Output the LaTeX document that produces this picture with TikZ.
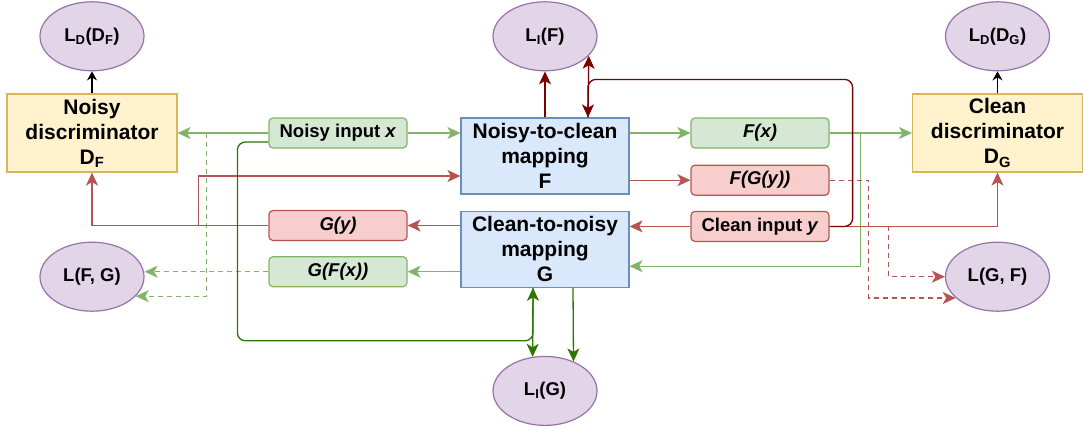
\documentclass[tikz,border=0pt]{standalone}
\usepackage{fontspec}
\setmainfont{Liberation Sans}
\usetikzlibrary{arrows.meta,positioning,shapes.geometric}
\definecolor{gfill}{HTML}{D5E8D4}\definecolor{gline}{HTML}{82B366}
\definecolor{rfill}{HTML}{F8CECC}\definecolor{rline}{HTML}{B85450}
\definecolor{bfill}{HTML}{DAE8FC}\definecolor{bline}{HTML}{6C8EBF}
\definecolor{yfill}{HTML}{FFF2CC}\definecolor{yline}{HTML}{D6B656}
\definecolor{pfill}{HTML}{E1D5E7}\definecolor{pline}{HTML}{9673A6}
\definecolor{dred}{HTML}{7A0000}\definecolor{dgreen}{HTML}{2D7600}
\tikzset{
  box/.style={draw, line width=1.2pt, align=center, inner sep=2pt, font=\fontsize{21}{25}\selectfont\bfseries},
  mapb/.style={box, fill=bfill, draw=bline, minimum width=168pt, minimum height=76pt},
  disc/.style={box, fill=yfill, draw=yline, minimum width=170pt, minimum height=78pt},
  sig/.style={box, rounded corners=4pt, minimum width=138pt, minimum height=30pt, font=\fontsize{18.5}{22}\selectfont\bfseries},
  sigg/.style={sig, fill=gfill, draw=gline},
  sigr/.style={sig, fill=rfill, draw=rline},
  loss/.style={ellipse, draw=pline, fill=pfill, line width=1.2pt, minimum width=104pt, minimum height=69pt, inner sep=0pt, font=\fontsize{18.5}{22}\selectfont\bfseries},
  arr/.style={-{Stealth[length=13pt, width=12pt, inset=3.5pt]}, line width=1.3pt},
  karr/.style={-{Stealth[length=9pt, width=10pt, inset=3pt]}, line width=1.5pt, draw=black},
  garr/.style={arr, draw=gline}, rarr/.style={arr, draw=rline},
  gdash/.style={garr, dash pattern=on 5pt off 4pt}, rdash/.style={rarr, dash pattern=on 5pt off 4pt},
  drarr/.style={arr, draw=dred}, dgarr/.style={arr, draw=dgreen}}
\begin{document}
\begin{tikzpicture}[x=1pt, y=-1pt]
  \useasboundingbox (0,0) rectangle (1083,429);
  \node[mapb] (F) at (545,156) {Noisy-to-clean\\mapping\\F};
  \node[mapb, below=16pt of F] (G) {Clean-to-noisy\\mapping\\G};
  \node[disc] (df) at (92,133) {Noisy\\discriminator\\D\textsubscript{F}};
  \node[disc] (dg) at (997.5,133) {Clean\\discriminator\\D\textsubscript{G}};
  \node[sigg] (nx) at (338,133) {Noisy input \textit{x}};
  \node[sigr] (gy) at (338,225.5) {\textit{G(y)}};
  \node[sigg, below=15pt of gy] (gfx) {\textit{G(F(x))}};
  \node[sigg] (fx) at (760,133) {\textit{F(x)}};
  \node[sigr, below=16pt of fx] (fgy) {\textit{F(G(y))}};
  \node[sigr, below=15pt of fgy] (cy) {Clean input \textit{y}};
  \node[loss, above=22pt of df] (ldf) {L\textsubscript{D}(D\textsubscript{F})};
  \node[loss, above=22pt of dg] (ldg) {L\textsubscript{D}(D\textsubscript{G})};
  \node[loss, above=46pt of F] (lif) {L\textsubscript{I}(F)};
  \node[loss, below=68pt of G] (lig) {L\textsubscript{I}(G)};
  \node[loss, below=69pt of df] (lfg) {L(F, G)};
  \node[loss, below=69pt of dg] (lgf) {L(G, F)};
  % discriminator losses
  \draw[karr] (df.north) -- (ldf.south); \draw[karr] (dg.north) -- (ldg.south);
  % noisy branch
  \draw[garr, line width=2pt] (nx.west) -- (df.east); \draw[garr] (nx.east) -- (nx.east -| F.west);
  \draw[garr] (fx.west -| F.east) -- (fx.west); \draw[garr] (fx.east) -- (dg.west);
  \draw[garr] (fx.east) -- ++(31,0) |- ([yshift=-17pt]G.east);
  \draw[garr] (gfx.east -| G.west) -- (gfx.east);
  \draw[gdash] (gfx.west) -- (gfx.west -| lfg.east); \draw[gdash] (nx.west) ++(-62,0) |- (lfg.-24);
  % clean branch
  \draw[rarr] (gy.east -| G.west) -- (gy.east); \draw[rarr] (gy.west) -| (df.south);
  \draw[rarr] (gy.west) ++(-70,0) |- ([yshift=-20pt]F.west);
  \draw[rarr] (fgy.west -| F.east) -- (fgy.west); \draw[rarr] (cy.west) -- (cy.west -| G.east);
  \draw[rarr] (cy.east) -| (dg.south);
  \draw[rdash] (cy.east) ++(59,0) |- (lgf.west); \draw[rdash] (fgy.east) -- ++(39,0) |- (lgf.-153);
  % identity losses
  \draw[drarr] (F.north) -- (lif.south);
  \draw[drarr, rounded corners=8pt] (cy.east) -- ++(23,0) |- ([shift={(43pt,38pt)}]F.north) -- ([xshift=43pt]F.north);
  \draw[drarr] ([xshift=43pt]F.north) -- (lif.-24);
  \draw[dgarr, rounded corners=8pt] ([yshift=-9pt]nx.west) -- ++(-31,0) |- ([shift={(-12pt,-53pt)}]G.south) -- ([xshift=-12pt]G.south);
  \draw[dgarr] ([xshift=-12pt]G.south) -- (lig.110); \draw[dgarr] ([xshift=28pt]G.south) -- (lig.46);
\end{tikzpicture}
\end{document}
